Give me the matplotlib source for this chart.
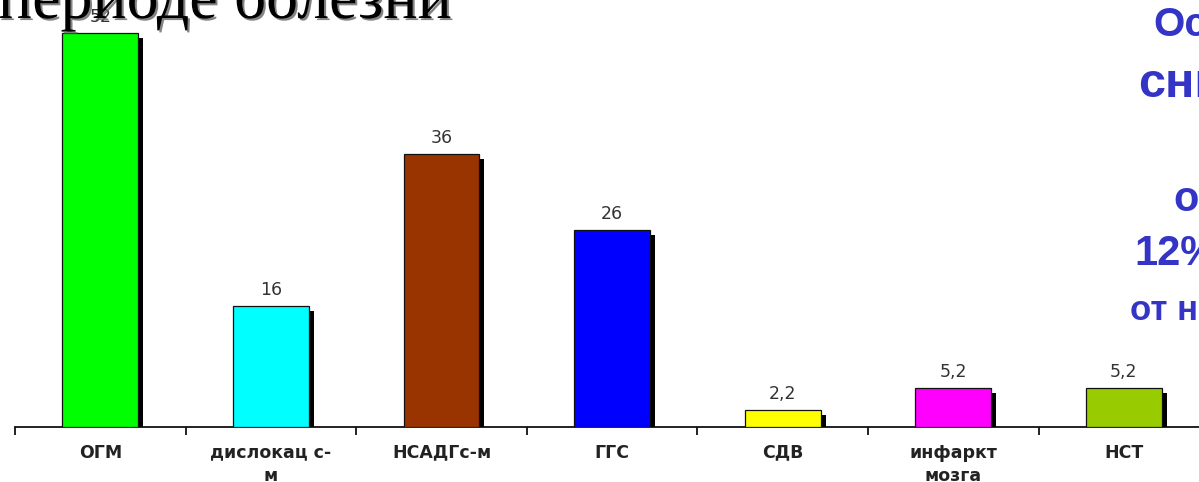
import matplotlib
matplotlib.use("Agg")
import matplotlib.pyplot as plt
import matplotlib.patheffects as pe
import numpy as np

# Chart data
categories = ["ОГМ", "дислокац с-\nм", "НСАДГс-м", "ГГС", "СДВ", "инфаркт\nмозга", "НСТ"]
values = [52, 16, 36, 26, 2.2, 5.2, 5.2]
colors = ["#00ff00", "#00ffff", "#993300", "#0000ff", "#ffff00", "#ff00ff", "#99cc00"]

title_text = "периоде болезни"
side_lines = ["Ос", "сни", "о", "12%", "от н"]

W, H = 1199, 482
fig = plt.figure(figsize=(W / 100, H / 100), dpi=100)
fig.patch.set_facecolor("white")

# axes box in pixels: baseline at y=427, category slots of ~170.6 px starting at x=15
slot = 170.6
left_px, base_px = 15, 427
ymax = 55
px_per_unit = 7.57
ax = fig.add_axes([left_px / W, (H - base_px) / H,
                   slot * len(categories) / W, ymax * px_per_unit / H])
ax.set_xlim(-0.5, len(categories) - 0.5)
ax.set_ylim(0, ymax)
ax.set_facecolor("none")

x = np.arange(len(categories))
bars = ax.bar(x, values, width=0.445, color=colors, edgecolor="#111111",
              linewidth=0.9, zorder=3)
for b in bars:
    b.set_path_effects([pe.SimplePatchShadow(offset=(3.6, -3.6), shadow_rgbFace="black",
                                             alpha=1.0, rho=0.0),
                        pe.Normal()])

for xi, v in zip(x, values):
    ax.annotate(f"{v:g}".replace(".", ","), (xi, v), xytext=(0, 8),
                textcoords="offset points", ha="center", va="baseline",
                fontsize=12.5, color="#333333", family="DejaVu Sans", zorder=5)

for s in ["top", "right", "left"]:
    ax.spines[s].set_visible(False)
ax.spines["bottom"].set_linewidth(1.3)
ax.spines["bottom"].set_color("#111111")
ax.set_yticks([])
ax.set_xticks(x)
ax.set_xticklabels(categories, fontsize=12.5, fontweight="bold", color="#222222",
                   family="DejaVu Sans", linespacing=1.4)
ax.tick_params(axis="x", which="major", length=0, pad=12)
ax.set_xticks(np.arange(len(categories) + 1) - 0.5, minor=True)
ax.tick_params(axis="x", which="minor", length=6, width=1.3, color="#111111")

# slide heading, partly cut off at the top edge
fig.text(-2 / W, 1 - 18 / H, title_text, fontsize=46, family="Liberation Serif",
         color="black", ha="left", va="baseline",
         path_effects=[pe.withSimplePatchShadow(offset=(1.5, -1.5),
                                                shadow_rgbFace="#666666", alpha=0.8)])

# side caption on the right edge
side_blue = "#3434c6"
side_specs = [(1153, 36, 29), (1138, 97, 35), (1173, 211, 30), (1134, 265, 30), (1130, 320, 25)]
for txt, (px, py, fs) in zip(side_lines, side_specs):
    fig.text(px / W, 1 - py / H, txt, fontsize=fs, fontweight="bold",
             family="Liberation Sans", color=side_blue, ha="left", va="baseline")

fig.savefig("out.png", dpi=100, facecolor="white")
